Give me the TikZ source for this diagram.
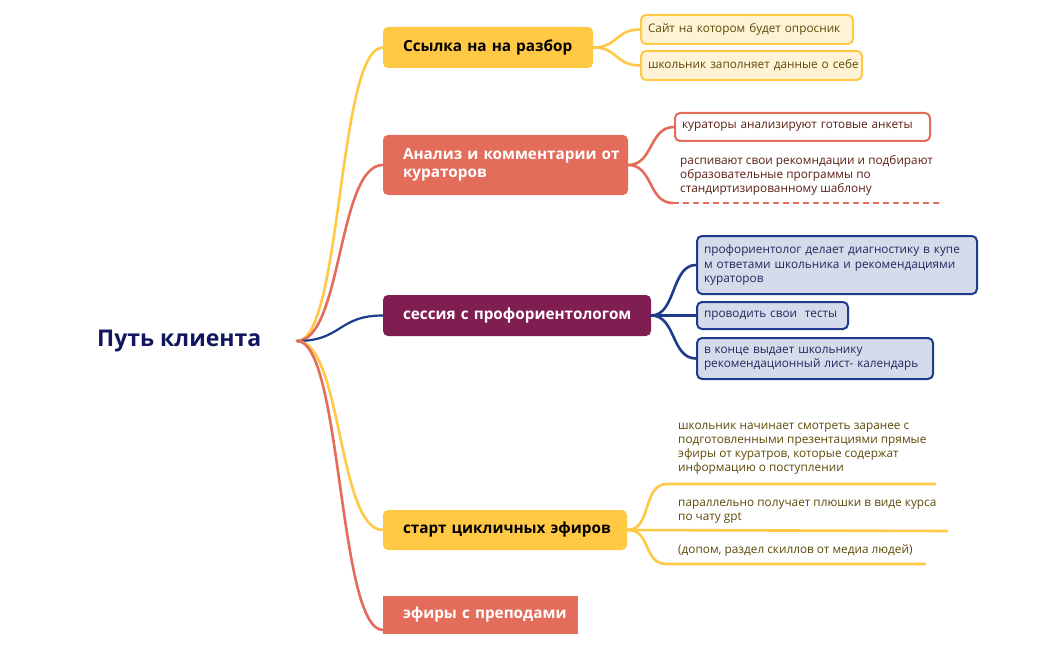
\documentclass[tikz,border=0pt]{standalone}
\usepackage{fontspec}
\setmainfont{Open Sans}
\definecolor{yel}{HTML}{FFC845}
\definecolor{lyel}{HTML}{FFF3D6}
\definecolor{coral}{HTML}{E46C5A}
\definecolor{plum}{HTML}{801E52}
\definecolor{navy}{HTML}{1E3C8C}
\definecolor{lblue}{HTML}{D5DBEB}
\definecolor{rootc}{HTML}{11165E}
\definecolor{olive}{HTML}{5E4A08}
\definecolor{redbrown}{HTML}{5B1F14}
\definecolor{navytext}{HTML}{1F2A5E}
\tikzset{
  mainbox/.style={rounded corners=5pt, inner xsep=20pt, inner ysep=0pt, font=\bfseries\fontsize{15.3}{18}\selectfont, align=left},
  kidbox/.style={rounded corners=5pt, inner xsep=7pt, inner ysep=0pt, line width=2pt, font=\fontsize{11.8}{14.5}\selectfont, align=left},
  kidtext/.style={inner sep=0pt, font=\fontsize{11.8}{14}\selectfont, align=left, anchor=north west},
  conn/.style={line width=2.6pt, line cap=round},
}
\begin{document}
\begin{tikzpicture}[x=1pt,y=-1pt]
\useasboundingbox (0,0) rectangle (1049,650);
\fill[white] (0,0) rectangle (1049,650);

% root
\node[anchor=west, inner sep=0pt, text=rootc, font=\bfseries\fontsize{23}{27}\selectfont] (root) at (97,341) {Путь клиента};
\coordinate (o) at (297,341);

% main boxes
\node[mainbox, fill=yel, text=black, text width=170pt, minimum height=41pt] (b1) at (488,47.5) {\mbox{Ссылка на на разбор}};
\node[mainbox, fill=coral, text=white, text width=205pt, minimum height=60pt] (b2) at (505.5,165) {\mbox{Анализ и комментарии от}\\\mbox{кураторов}};
\node[mainbox, fill=plum, text=white, text width=228pt, minimum height=41pt] (b3) at (517,315.5) {\mbox{сессия с профориентологом}};
\node[mainbox, fill=yel, text=black, text width=204pt, minimum height=40pt] (b4) at (505,530) {\mbox{старт цикличных эфиров}};
\node[mainbox, rounded corners=0pt, fill=coral, text=white, text width=155pt, minimum height=38pt] (b5) at (480.5,615) {\mbox{эфиры с преподами}};

% root connectors
\draw[conn, yel] (o) .. controls +(45,0) and +(-45,0) .. (b1.west);
\draw[conn, coral] (o) .. controls +(45,0) and +(-45,0) .. (b2.west);
\draw[conn, navy, line width=2.2pt] (o) .. controls +(45,0) and +(-45,0) .. (b3.west);
\draw[conn, yel] (o) .. controls +(45,0) and +(-45,0) .. (b4.west);
\coordinate (b5in) at (383,630);
\draw[conn, coral] (o) .. controls +(45,0) and +(-45,0) .. (b5in);

% branch 1 children
\node[kidbox, fill=lyel, draw=yel, text=olive, text width=198pt, minimum height=29pt] (c11) at (747,29.5) {\mbox{Сайт на котором будет опросник}};
\node[kidbox, fill=lyel, draw=yel, text=olive, text width=207pt, minimum height=29pt] (c12) at (751.5,65.5) {\mbox{школьник заполняет данные о себе}};
\draw[conn, yel] (b1.east) .. controls +(25,0) and +(-25,0) .. (c11.west);
\draw[conn, yel] (b1.east) .. controls +(25,0) and +(-25,0) .. (c12.west);

% branch 2 children
\node[kidbox, fill=white, draw=coral, text=redbrown, text width=241pt, minimum height=28pt] (c21) at (802.5,127) {\mbox{кураторы анализируют готовые анкеты}};
\node[kidtext, text=redbrown] (c22) at (680,155.5) {распивают свои рекомндации и подбирают\\образовательные программы по\\стандиртизированному шаблону};
\coordinate (c22a) at (673,203);
\coordinate (c22b) at (943,203);
\draw[conn, coral] (b2.east) .. controls +(25,0) and +(-25,0) .. (c21.west);
\draw[conn, coral] (b2.east) .. controls +(25,0) and +(-25,0) .. (c22a);
\draw[coral, line width=1.6pt, dash pattern=on 6pt off 4pt] (c22a) -- (c22b);

% branch 3 children
\node[kidbox, fill=lblue, draw=navy, text=navytext, text width=266pt, minimum height=58pt] (c31) at (837,265) {\mbox{профориентолог делает диагностику в купе}\\\mbox{м ответами школьника и рекомендациями}\\\mbox{кураторов}};
\node[kidbox, fill=lblue, draw=navy, text=navytext, text width=137pt, minimum height=27pt] (c32) at (772.5,315.5) {\mbox{проводить свои\ \ тесты}};
\node[kidbox, fill=lblue, draw=navy, text=navytext, text width=222pt, minimum height=41pt] (c33) at (815,358.5) {\mbox{в конце выдает школьнику}\\\mbox{рекомендационный лист- календарь}};
\draw[conn, navy] (b3.east) .. controls +(25,0) and +(-25,0) .. (c31.west);
\draw[conn, navy] (b3.east) -- (c32.west);
\draw[conn, navy] (b3.east) .. controls +(25,0) and +(-25,0) .. (c33.west);

% branch 4 children
\node[kidtext, text=olive] (c41) at (678,422.5) {школьник начинает смотреть заранее с\\подготовленными презентациями прямые\\эфиры от куратров, которые содержат\\информацию о поступлении};
\node[kidtext, text=olive] (c42) at (678,499.5) {параллельно получает плюшки в виде курса\\по чату gpt};
\node[kidtext, text=olive] (c43) at (678,544.5) {(допом, раздел скиллов от медиа людей)};
\coordinate (u1a) at (667,484);
\coordinate (u1b) at (935,484);
\coordinate (u2b) at (947,531);
\coordinate (u3a) at (667,564);
\coordinate (u3b) at (925,564);
\draw[conn, yel] (b4.east) .. controls +(25,0) and +(-25,0) .. (u1a) -- (u1b);
\draw[conn, yel] (b4.east) -- (u2b);
\draw[conn, yel] (b4.east) .. controls +(25,0) and +(-25,0) .. (u3a) -- (u3b);
\end{tikzpicture}
\end{document}
